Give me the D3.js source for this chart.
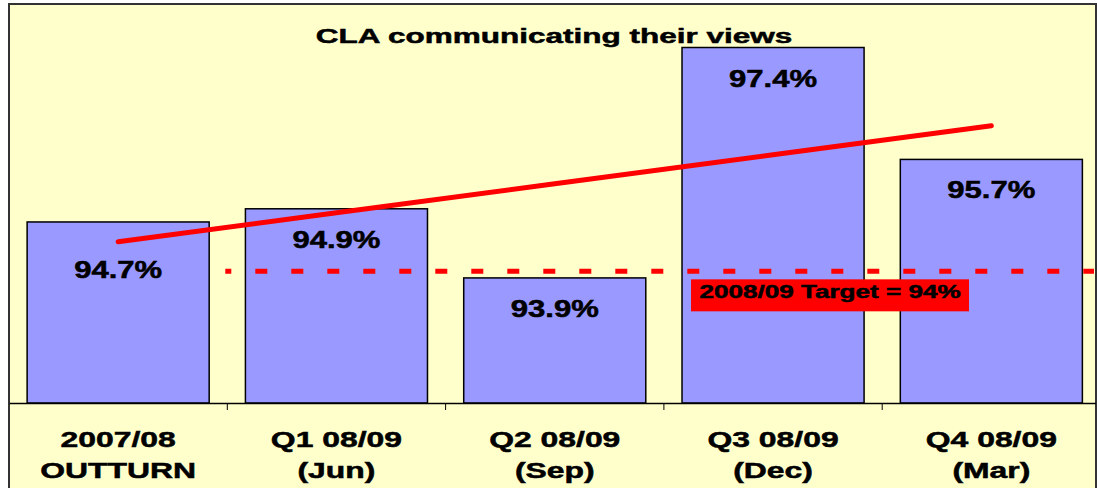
<!DOCTYPE html>
<html>
<head>
<meta charset="utf-8">
<script src="https://cdn.jsdelivr.net/npm/d3@7"></script>
<style>
  body { margin: 0; background: #fff; }
  text { font-family: "Liberation Sans", Arial, sans-serif; font-weight: bold; fill: #000; stroke: #000; stroke-width: 0.5px; }
</style>
</head>
<body>
<svg id="chart" width="1097" height="488"></svg>
<script>
// data
const categories = ["2007/08 OUTTURN", "Q1 08/09 (Jun)", "Q2 08/09 (Sep)", "Q3 08/09 (Dec)", "Q4 08/09 (Mar)"];
const catLine1 = ["2007/08", "Q1 08/09", "Q2 08/09", "Q3 08/09", "Q4 08/09"];
const catLine2 = ["OUTTURN", "(Jun)", "(Sep)", "(Dec)", "(Mar)"];
const values = [94.75, 94.95, 93.9, 97.4, 95.7];
const valueLabels = ["94.7%", "94.9%", "93.9%", "97.4%", "95.7%"];
const trendValues = [94.45, 94.89, 95.33, 95.77, 96.21];
const target = 94;
const targetLabel = "2008/09 Target = 94%";
const title = "CLA communicating their views";
const yDomain = [92, 98];

const width = 1097, height = 488;
const frame = {left: 9, top: 4, right: 1096};
const plot = {left: 9, right: 1100.5, top: 8, bottom: 403};

const svg = d3.select("#chart");

// outer frame / background
svg.append("rect")
    .attr("x", frame.left)
    .attr("y", frame.top)
    .attr("width", frame.right - frame.left)
    .attr("height", height + 20)
    .attr("fill", "#FFFFCC")
    .attr("stroke", "#333")
    .attr("stroke-width", 2);

svg.append("clipPath").attr("id", "clip")
    .append("rect")
    .attr("x", frame.left).attr("y", frame.top)
    .attr("width", frame.right - frame.left).attr("height", height);

const g = svg.append("g").attr("clip-path", "url(#clip)");

var x = d3.scaleBand()
    .domain(categories)
    .range([plot.left, plot.right])
    .paddingInner(0.166)
    .paddingOuter(0.083);

var y = d3.scaleLinear()
    .domain(yDomain)
    .range([plot.bottom, plot.top]);

// stretched text helper (the original image is widened horizontally)
function stretchText(sel, cx, cy, size, sx, str) {
    return sel.append("text")
        .attr("transform", `translate(${cx},${cy}) scale(${sx},1)`)
        .attr("text-anchor", "middle")
        .attr("font-size", size)
        .text(str);
}

// bars
g.selectAll(".bar")
    .data(values)
    .enter()
    .append("rect")
    .attr("class", "bar")
    .attr("x", (d, i) => x(categories[i]))
    .attr("y", d => y(d))
    .attr("width", x.bandwidth())
    .attr("height", d => y(yDomain[0]) - y(d))
    .attr("fill", "#9999FF")
    .attr("stroke", "#000")
    .attr("stroke-width", 1.5);

// x axis line
g.append("g")
    .attr("transform", `translate(0,${plot.bottom})`)
    .call(d3.axisBottom(x).tickSize(0).tickFormat(""))
    .call(a => a.select(".domain").attr("stroke", "#000").attr("stroke-width", 1.5));

// tick marks between categories
g.selectAll(".tickmark")
    .data(categories.slice(1))
    .enter()
    .append("line")
    .attr("class", "tickmark")
    .attr("x1", d => x(d) - x.step() * x.paddingInner() / 2)
    .attr("x2", d => x(d) - x.step() * x.paddingInner() / 2)
    .attr("y1", plot.bottom)
    .attr("y2", plot.bottom + 7)
    .attr("stroke", "#000")
    .attr("stroke-width", 1);

// category labels
categories.forEach((c, i) => {
    const cx = x(c) + x.bandwidth() / 2;
    stretchText(g, cx, plot.bottom + 44, 22, 1.45, catLine1[i]);
    stretchText(g, cx, plot.bottom + 75, 22, 1.45, catLine2[i]);
});

// target line
const tx0 = x(categories[1]) - x.step() * x.paddingInner() / 2 - 2;
g.append("line")
    .attr("x1", tx0)
    .attr("x2", frame.right - 2)
    .attr("y1", y(target))
    .attr("y2", y(target))
    .attr("stroke", "#FF0000")
    .attr("stroke-width", 5)
    .attr("stroke-dasharray", "12,24")
    .attr("stroke-dashoffset", 6);

// trend line
g.append("path")
    .datum(trendValues)
    .attr("fill", "none")
    .attr("stroke", "#FF0000")
    .attr("stroke-width", 5)
    .attr("stroke-linecap", "round")
    .attr("d", d3.line()
        .x((d, i) => x(categories[i]) + x.bandwidth() / 2)
        .y(d => y(d)));

// value labels
values.forEach((v, i) => {
    const cx = x(categories[i]) + x.bandwidth() / 2;
    const dy = i === 0 ? 56 : 39; // first label sits lower, below the trend line
    stretchText(g, cx, y(v) + dy, 23, 1.35, valueLabels[i]);
});

// target label box
const bx = x(categories[3]) + 9;
g.append("rect")
    .attr("x", bx)
    .attr("y", y(target) + 8)
    .attr("width", 278)
    .attr("height", 32)
    .attr("fill", "#FF0000");
stretchText(g, bx + 139, y(target) + 27, 18, 1.45, targetLabel);

// title
stretchText(g, (frame.left + frame.right) / 2 + 1.5, 43, 21, 1.5, title);
</script>
</body>
</html>
